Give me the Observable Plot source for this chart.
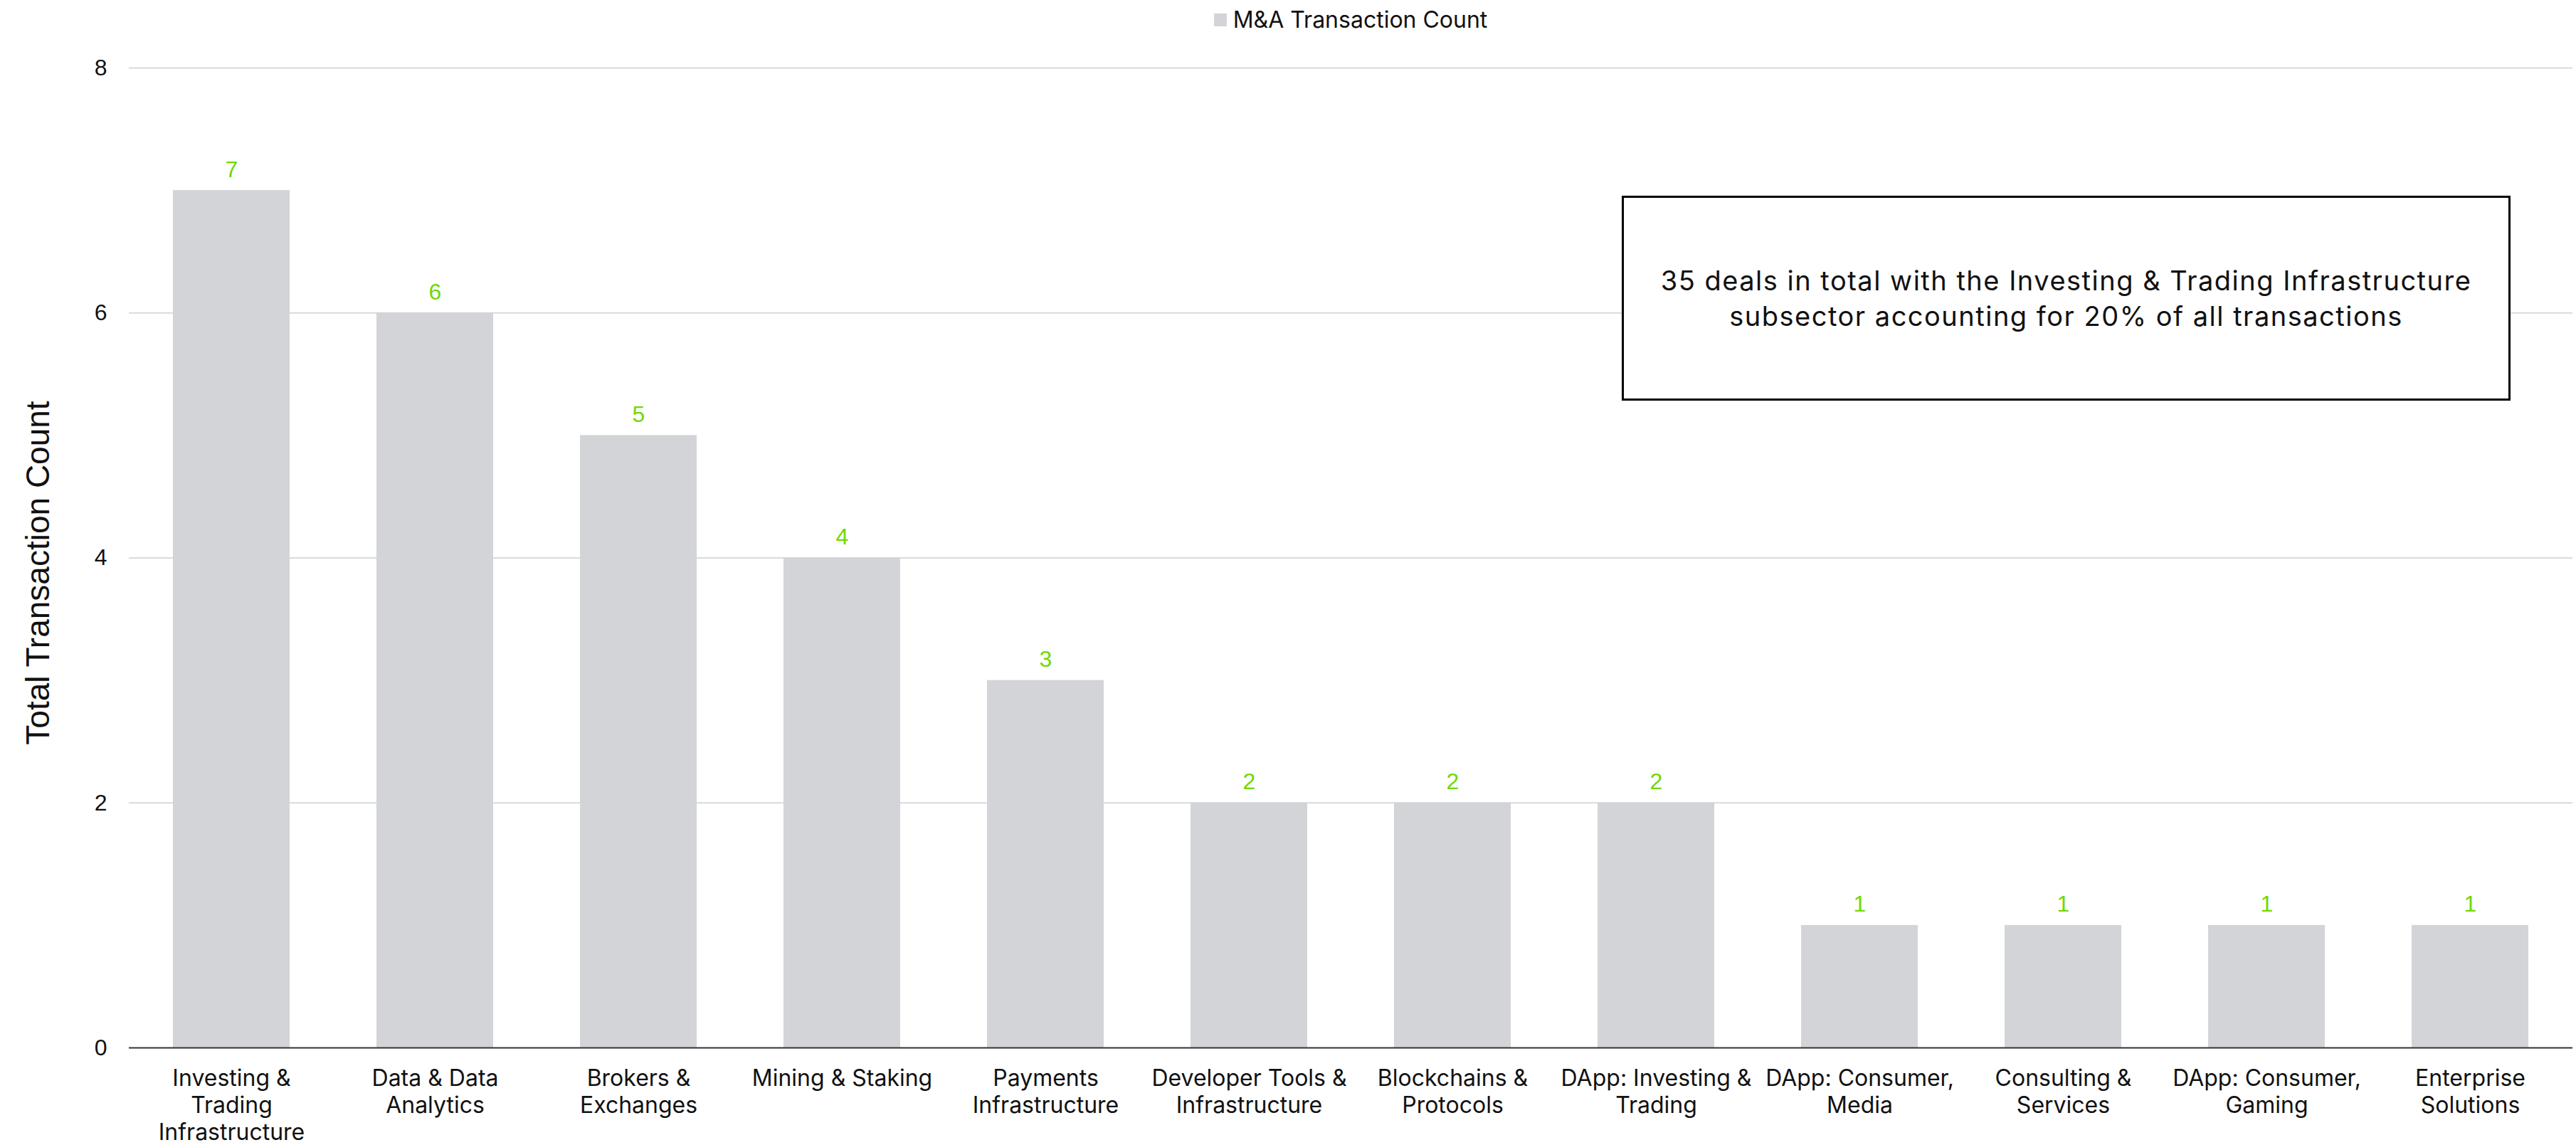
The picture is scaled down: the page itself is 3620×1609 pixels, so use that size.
<!DOCTYPE html>
<html><head><meta charset="utf-8">
<script src="https://cdn.jsdelivr.net/npm/d3@7"></script>
<script src="https://cdn.jsdelivr.net/npm/@observablehq/plot@0.6"></script>
<style>
html,body{margin:0;padding:0;background:#fff;}
#wrap{position:relative;width:3620px;height:1609px;overflow:hidden;}
#legend{height:55px;padding-left:181px;padding-right:5px;display:flex;align-items:center;justify-content:center;font-family:Inter,sans-serif;font-size:32px;color:#111;}
#legend .sw{width:18px;height:18px;background:#d3d4d8;margin-right:9px;}
#note{position:absolute;left:2279px;top:275px;width:1243px;height:282px;border:3px solid #000;display:flex;align-items:center;justify-content:center;text-align:center;font-family:Inter,sans-serif;font-size:38px;letter-spacing:1.5px;line-height:50px;color:#111;background:#fff;}
svg{display:block;}
</style></head>
<body>
<div id="wrap">
  <div id="legend"><span class="sw"></span><span id="legendText"></span></div>
  <div id="chart"></div>
  <div id="note"></div>
</div>
<script>
const seriesName = "M&A Transaction Count";
const categories = [
  "Investing & Trading Infrastructure",
  "Data & Data Analytics",
  "Brokers & Exchanges",
  "Mining & Staking",
  "Payments Infrastructure",
  "Developer Tools & Infrastructure",
  "Blockchains & Protocols",
  "DApp: Investing & Trading",
  "DApp: Consumer, Media",
  "Consulting & Services",
  "DApp: Consumer, Gaming",
  "Enterprise Solutions"
];
const tickLabels = [
  "Investing &\nTrading\nInfrastructure",
  "Data & Data\nAnalytics",
  "Brokers &\nExchanges",
  "Mining & Staking",
  "Payments\nInfrastructure",
  "Developer Tools &\nInfrastructure",
  "Blockchains &\nProtocols",
  "DApp: Investing &\nTrading",
  "DApp: Consumer,\nMedia",
  "Consulting &\nServices",
  "DApp: Consumer,\nGaming",
  "Enterprise\nSolutions"
];
const counts = [7, 6, 5, 4, 3, 2, 2, 2, 1, 1, 1, 1];
const yTicks = [0, 2, 4, 6, 8];
const yLabel = "Total Transaction Count";
const noteLines = [
  "35 deals in total with the Investing & Trading Infrastructure",
  "subsector accounting for 20% of all transactions"
];

const data = categories.map((c, i) => ({category: c, count: counts[i]}));
const labelOf = new Map(categories.map((c, i) => [c, tickLabels[i]]));

document.getElementById("legendText").textContent = seriesName;
const note = document.getElementById("note");
const noteInner = document.createElement("div");
noteLines.forEach((l, i) => {
  if (i) noteInner.appendChild(document.createElement("br"));
  noteInner.appendChild(document.createTextNode(l));
});
note.appendChild(noteInner);

const chart = Plot.plot({
  width: 3620,
  height: 1554,
  marginTop: 40,
  marginBottom: 137,
  marginLeft: 181,
  marginRight: 5,
  style: {background: "transparent", fontFamily: "Inter", color: "#111"},
  x: {domain: categories, paddingInner: 0.427, paddingOuter: 0.2135, label: null},
  y: {domain: [0, 8], label: null},
  marks: [
    Plot.gridY(yTicks.filter(d => d > 0), {stroke: "#d9dadd", strokeOpacity: 1, strokeWidth: 2}),
    Plot.barY(data, {x: "category", y: "count", fill: "#d3d4d8"}),
    Plot.ruleY([0], {stroke: "#333", strokeWidth: 2}),
    Plot.text(data, {x: "category", y: "count", text: d => String(d.count), lineAnchor: "bottom", dy: -19, fill: "#70d900", fontSize: 32, fontFamily: "Liberation Sans"}),
    Plot.axisY(yTicks, {tickSize: 0, tickPadding: 31, fontSize: 32, fontFamily: "Liberation Sans", tickFormat: d => String(d), label: null}),
    Plot.axisX({tickSize: 0, tickPadding: 26, fontSize: 32, fontFamily: "Inter", lineHeight: 1.19, tickFormat: d => labelOf.get(d), label: null}),
    Plot.text([yLabel], {text: d => d, frameAnchor: "left", textAnchor: "middle", lineAnchor: "middle", dx: -127, dy: 21, rotate: -90, fontSize: 46, fontFamily: "Liberation Sans", fill: "#111"})
  ]
});
document.getElementById("chart").appendChild(chart);
</script>
</body></html>
